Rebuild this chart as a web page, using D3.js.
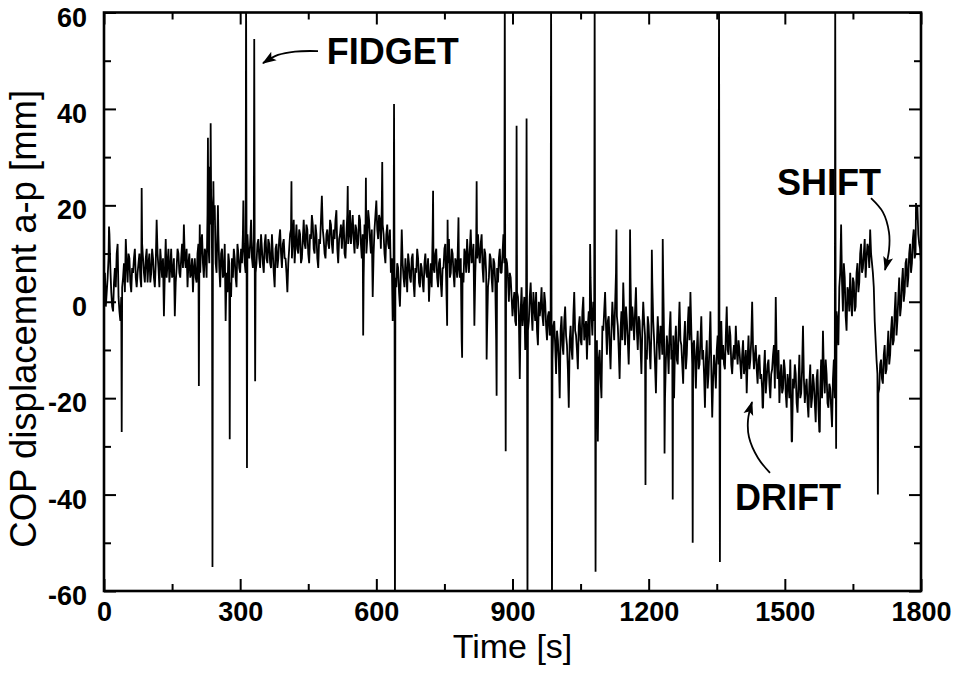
<!DOCTYPE html>
<html><head><meta charset="utf-8">
<script src="https://cdn.jsdelivr.net/npm/d3@7"></script>
<style>body{margin:0;background:#fff}svg{display:block}</style>
</head><body>
<svg id="chart" width="966" height="691"></svg>
<script>
// sampling step of the record (s); base samples at 0,4,8,... and mid samples at 2,6,10,...
const step = 4;
// COP a-p displacement (mm), one array per 100 s block
const cop0000 = [3,-1,5,14,2,-2,7,10,1,-4,3,8,13,4,9,2,6,11,3,8,5,12,6,9,4];
const cop0100 = [10,6,9,3,17,7,11,5,-3,13,8,4,11,6,-3,7,10,5,12,16,7,3,10,6,2];
const cop0200 = [9,4,12,6,14,5,10,18,8,22,12,20,6,14,3,11,6,-4,2,8,1,5,9,3,10];
const cop0300 = [6,8,12,6,14,9,17,7,11,8,13,7,11,6,14,8,12,7,10,3,12,9,15,7,13];
const cop0400 = [9,2,11,15,13,8,16,10,14,9,17,11,15,8,13,16,10,14,7,12,22,13,9,15,11];
const cop0500 = [16,10,13,19,8,14,11,17,9,18,14,12,18,10,15,12,17,9,5,13,13,17,10,1,15];
const cop0600 = [21,13,17,20,14,8,16,11,6,-4,9,3,7,-1,15,5,9,2,8,4,10,1,6,9,3];
const cop0700 = [7,2,10,5,0,8,14,6,11,3,9,1,7,12,-5,13,6,10,3,8,13,5,-8,4,10];
const cop0800 = [13,6,15,9,-5,12,14,8,14,4,10,-6,5,9,2,8,-8,4,11,6,14,3,8,0,5];
const cop0900 = [-3,2,-5,1,-16,3,-2,-10,0,-4,4,-6,-1,2,-9,-3,3,-5,0,-8,-2,-6,-12,-4,-15];
const cop1000 = [-8,-20,-3,-11,-1,-9,-22,-5,-12,2,-7,-14,-3,-9,1,-6,-12,-2,5,-7,-4,-15,-29,-10,-20];
const cop1100 = [-6,2,-11,-3,-14,0,-8,6,-5,-16,-2,4,-9,-4,-13,5,-1,-8,3,-10,-4,-15,0,-7,-12];
const cop1200 = [-5,-14,4,-8,-19,-3,-12,-6,5,-20,-7,-15,-2,-10,-20,-5,-13,0,-9,-17,-4,-11,-1,2,-13];
const cop1300 = [-8,-18,-6,-13,-3,-10,-22,-8,-15,-2,-24,-11,-18,-7,-12,-4,-9,-14,-1,-11,-7,-15,-9,-5,-13];
const cop1400 = [-10,-16,-8,-13,-19,-7,-12,0,-14,-9,-17,-11,-15,-22,-10,-16,-12,-20,-14,-9,1,-16,-21,-13,-18];
const cop1500 = [-14,-22,-17,-12,-29,-18,-15,-23,-11,-19,-5,-21,-16,-24,-13,-20,-17,-25,-14,-27,-12,-6,-19,-15,-22];
const cop1600 = [-18,-26,-12,-8,-4,3,16,-2,5,-6,2,6,-3,4,-1,8,4,12,7,13,9,11,15,8,3];
const cop1700 = [-8,-15,-18,-12,-17,-9,-14,-6,-11,-3,-8,2,-4,5,-1,7,2,9,5,12,8,15,10,20,12,8];
// mid samples (t + 2 s) for each block
const mid0000 = [6,2,9,7,-1,4,3,12,-2,1,5,2,8,10,4,7,9,5,6,10,3,9,4,11,8];
const mid0100 = [4,11,5,8,10,3,8,9,6,5,11,7,5,9,4,11,6,9,7,9,11,8,5,9,7];
const mid0200 = [5,10,7,12,8,11,5,12,16,9,17,8,15,7,10,5,12,6,10,4,9,11,5,12,7];
const mid0300 = [11,14,8,16,10,12,9,13,6,12,9,14,8,12,9,13,8,14,6,11,7,13,10,12,9];
const mid0400 = [6,8,14,9,17,12,11,15,8,13,12,16,10,14,18,11,16,9,13,17,15,10,14,12,17];
const mid0500 = [12,15,17,11,13,16,15,10,14,12,19,15,13,16,11,18,12,14,16,10,19,13,15,10,18];
const mid0600 = [15,18,11,16,10,14,12,15,9,7,5,8,2,6,8,3,6,10,5,9,4,7,11,4,8];
const mid0700 = [4,8,6,9,5,3,7,10,5,8,4,7,11,4,8,5,11,6,9,5,7,9,6,11,6];
const mid0800 = [9,11,8,12,6,9,10,12,7,11,6,3,10,5,9,4,7,9,6,10,8,9,5,6,1];
const mid0900 = [0,-4,2,-3,-2,-5,1,-3,-6,1,-2,2,-4,-6,0,-1,-3,2,-5,-3,-7,-1,-5,-9,-6];
const mid1000 = [-12,-6,-9,-4,-7,-14,-8,-10,-3,-6,-10,-5,-8,-2,-8,-4,-5,-9,-3,0,-10,-8,-12,-16,-5];
const mid1100 = [-2,-5,-4,-9,-6,-4,-1,-3,-10,-6,-8,-3,-1,-8,-5,-6,-4,-2,-6,-3,-9,-6,-4,-10,-3];
const mid1200 = [-10,-6,-4,-13,-9,-8,-5,-11,-8,-12,-10,-6,-12,-7,-9,-12,-6,-8,-13,-8,-14,-5,-8,-6,-9];
const mid1300 = [-12,-10,-14,-8,-12,-15,-12,-18,-9,-14,-16,-14,-10,-13,-8,-12,-13,-7,-10,-5,-13,-11,-12,-10,-8];
const mid1400 = [-13,-11,-15,-10,-12,-14,-8,-10,-11,-14,-12,-16,-18,-14,-19,-13,-17,-15,-11,-18,-12,-10,-16,-19,-12];
const mid1500 = [-19,-15,-20,-22,-16,-13,-21,-17,-20,-14,-16,-18,-21,-17,-22,-15,-21,-16,-22,-18,-20,-15,-12,-21,-17];
const mid1600 = [-22,-16,-20,-2,-9,6,4,8,-3,3,-2,0,5,-2,6,2,10,6,10,5,12,7,10,6,-4];
const mid1700 = [-12,-19,-13,-16,-11,-15,-10,-13,-6,-9,-2,-7,1,-3,4,0,8,3,10,6,13,9,17,14,11];
// brief excursions (fidgets / spikes): [time s, value mm]
const spikes = [[11,15.6],[39,-27],[83,23.6],[209,-17.5],[211,16],[229,34],[233,28],[235,37],[237,20],[239,-55],[241,25],[251,20],[277,-28.5],[307,21],[313,66],[315,-34.5],[331,54.5],[333,-16.5],[413,25],[537,24],[571,-7],[577,25.7],[613,29],[639,41],[641,-66],[725,23],[757,17],[781,17.5],[789,-11.6],[821,25],[843,-12],[865,-19.5],[883,66],[885,-31],[909,36.5],[931,38],[933,-66],[985,66],[987,-66],[1071,12],[1081,66],[1083,-56],[1129,15],[1159,15],[1193,-38],[1207,10.8],[1231,13],[1235,-31.5],[1253,-41],[1297,-50],[1355,66],[1357,-54],[1451,-22],[1515,-29],[1577,-27],[1611,66],[1613,-30.5],[1705,-40],[1789,20.5]];
const xTicks = [0,300,600,900,1200,1500,1800];
const xMinor = [150,450,750,1050,1350,1650];
const yTicks = [-60,-40,-20,0,20,40,60];
const yMinor = [-50,-30,-10,10,30,50];
const xTitle = "Time [s]";
const yTitle = "COP displacement a-p [mm]";
const notes = [
  {text:"FIDGET", t:491, v:49.3, arrow:[[471.5,52.0],[420.8,51.9],[383.4,51.2],[350.3,49.5]]},
  {text:"SHIFT",  t:1483, v:22.1, arrow:[[1689.8,21.5],[1716,18.6],[1729.5,14.4],[1729.5,10.7],[1720.7,6.6]]},
  {text:"DRIFT",  t:1390, v:-43.2, arrow:[[1467.3,-35.5],[1440.9,-32.4],[1421.1,-28.1],[1418.9,-24.5],[1427.7,-20.8]]}
];

const blocks = [cop0000,cop0100,cop0200,cop0300,cop0400,cop0500,cop0600,cop0700,cop0800,cop0900,
  cop1000,cop1100,cop1200,cop1300,cop1400,cop1500,cop1600,cop1700];
const mids = [mid0000,mid0100,mid0200,mid0300,mid0400,mid0500,mid0600,mid0700,mid0800,mid0900,
  mid1000,mid1100,mid1200,mid1300,mid1400,mid1500,mid1600,mid1700];
const series = [];
blocks.forEach((b,i)=>b.forEach((v,j)=>{
  const t0 = i*100 + j*step;
  series.push({t:t0, v});
  if (mids[i][j] !== undefined) series.push({t:t0+step/2, v:mids[i][j]});
}));
spikes.forEach(([t,v])=>series.push({t,v}));
series.sort((a,b)=>a.t-b.t);

const L=104, R=921, T=12.5, B=591;
const svg = d3.select("#chart");
const x = d3.scaleLinear().domain([0,1800]).range([L,R]);
const y = d3.scaleLinear().domain([-60,60]).range([B,T]);

const defs = svg.append("defs");
defs.append("clipPath").attr("id","plotclip")
  .append("rect").attr("x",L).attr("y",T).attr("width",R-L).attr("height",B-T);
defs.append("marker").attr("id","ah").attr("viewBox","-13 -6 15 12")
  .attr("refX",0).attr("refY",0).attr("markerWidth",15).attr("markerHeight",12)
  .attr("markerUnits","userSpaceOnUse").attr("orient","auto")
  .append("path").attr("d","M1,0 L-13,-5 L-10,0 L-13,5 Z").attr("fill","#000");

// signal
svg.append("path").datum(series)
  .attr("clip-path","url(#plotclip)")
  .attr("fill","none").attr("stroke","#000").attr("stroke-width",1.8)
  .attr("stroke-linejoin","bevel")
  .attr("d", d3.line().x(d=>x(d.t)).y(d=>y(d.v)));

const font = "'Liberation Sans', Arial, Helvetica, sans-serif";
function styleAxis(g){
  g.select(".domain").remove();
  g.selectAll(".tick line").attr("stroke","#000").attr("stroke-width",2);
  g.selectAll(".tick text").attr("fill","#000").style("font-family",font)
    .style("font-weight","bold").style("font-size","27px");
}
const fmt = d => String(d);
// major + minor ticks, all inward
svg.append("g").attr("transform",`translate(0,${B})`)
  .call(d3.axisBottom(x).tickValues(xTicks).tickSizeInner(-12).tickSizeOuter(0).tickPadding(11).tickFormat(fmt))
  .call(styleAxis);
svg.append("g").attr("transform",`translate(0,${B})`)
  .call(d3.axisBottom(x).tickValues(xMinor).tickSizeInner(-7).tickSizeOuter(0).tickFormat(""))
  .call(styleAxis);
svg.append("g").attr("transform",`translate(0,${T})`)
  .call(d3.axisTop(x).tickValues(xTicks).tickSizeInner(-12).tickSizeOuter(0).tickFormat(""))
  .call(styleAxis);
svg.append("g").attr("transform",`translate(0,${T})`)
  .call(d3.axisTop(x).tickValues(xMinor).tickSizeInner(-7).tickSizeOuter(0).tickFormat(""))
  .call(styleAxis);
const gl = svg.append("g").attr("transform",`translate(${L},0)`)
  .call(d3.axisLeft(y).tickValues(yTicks).tickSizeInner(-12).tickSizeOuter(0).tickPadding(17).tickFormat(fmt))
  .call(styleAxis);
gl.selectAll(".tick text").attr("dy","0.5em");
svg.append("g").attr("transform",`translate(${L},0)`)
  .call(d3.axisLeft(y).tickValues(yMinor).tickSizeInner(-7).tickSizeOuter(0).tickFormat(""))
  .call(styleAxis);
svg.append("g").attr("transform",`translate(${R},0)`)
  .call(d3.axisRight(y).tickValues(yTicks).tickSizeInner(-12).tickSizeOuter(0).tickFormat(""))
  .call(styleAxis);
svg.append("g").attr("transform",`translate(${R},0)`)
  .call(d3.axisRight(y).tickValues(yMinor).tickSizeInner(-7).tickSizeOuter(0).tickFormat(""))
  .call(styleAxis);

// frame
svg.append("rect").attr("x",L).attr("y",T).attr("width",R-L).attr("height",B-T)
  .attr("fill","none").attr("stroke","#000").attr("stroke-width",2.6);

// titles
svg.append("text").attr("x",(L+R)/2).attr("y",658).attr("text-anchor","middle")
  .style("font-family",font).style("font-size","34px").attr("fill","#000").text(xTitle);
svg.append("text").attr("transform",`translate(36,${(T+B)/2+17}) rotate(-90)`).attr("text-anchor","middle")
  .style("font-family",font).style("font-size","36.5px").attr("fill","#000").text(yTitle);

// annotations
const arrowLine = d3.line().x(d=>x(d[0])).y(d=>y(d[1])).curve(d3.curveCatmullRom);
notes.forEach(n=>{
  svg.append("text").attr("x",x(n.t)).attr("y",y(n.v))
    .style("font-family",font).style("font-weight","bold").style("font-size","36px")
    .attr("fill","#000").text(n.text);
  svg.append("path").attr("d",arrowLine(n.arrow)).attr("fill","none")
    .attr("stroke","#000").attr("stroke-width",1.8).attr("marker-end","url(#ah)");
});
</script>
</body></html>
